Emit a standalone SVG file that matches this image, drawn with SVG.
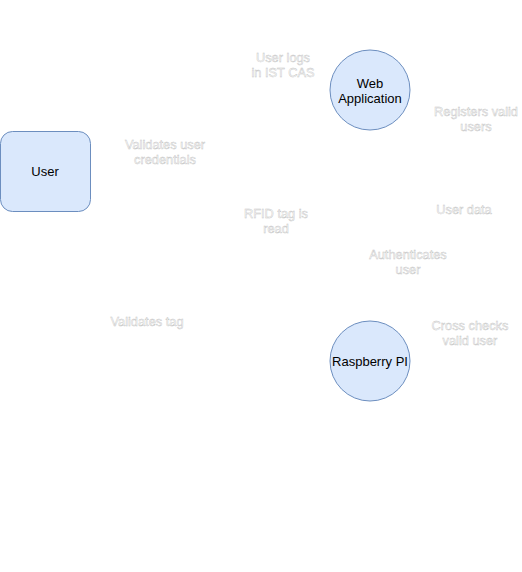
<svg xmlns="http://www.w3.org/2000/svg" width="522" height="572" viewBox="0 0 522 572">
<style>
.node{fill:#dae8fc;stroke:#6c8ebf;stroke-width:1}
.nt{font-family:"Liberation Sans",Arial,sans-serif;font-size:13px;fill:#000;text-anchor:middle}
.lb{font-family:"Liberation Sans",Arial,sans-serif;font-size:12.8px;fill:#fff;stroke:#c4c4c4;stroke-width:0.45;text-anchor:middle}
.edge{fill:none;stroke:#fff;stroke-width:1}
</style>
<rect width="522" height="572" fill="#fff"/>
<g id="connectors">
<path class="edge" d="M90 160 L330 90"/>
<path class="edge" d="M90 190 L330 361"/>
<path class="edge" d="M410 90 L470 361"/>
</g>
<g id="labels">
<text class="lb" x="283" y="62">User logs</text>
<text class="lb" x="283" y="77">in IST CAS</text>
<text class="lb" x="476" y="116">Registers valid</text>
<text class="lb" x="476" y="131">users</text>
<text class="lb" x="165" y="149">Validates user</text>
<text class="lb" x="165" y="164">credentials</text>
<text class="lb" x="276" y="218">RFID tag is</text>
<text class="lb" x="276" y="233">read</text>
<text class="lb" x="464" y="214">User data</text>
<text class="lb" x="408" y="259">Authenticates</text>
<text class="lb" x="408" y="274">user</text>
<text class="lb" x="147" y="326">Validates tag</text>
<text class="lb" x="470" y="330">Cross checks</text>
<text class="lb" x="470" y="345">valid user</text>
</g>
<g id="user">
<rect class="node" x="0.5" y="131.5" width="90" height="80" rx="12"/>
<text class="nt" x="45" y="176">User</text>
</g>
<g id="webapp">
<circle class="node" cx="370" cy="90" r="40"/>
<text class="nt" x="370" y="88">Web</text>
<text class="nt" x="370" y="103">Application</text>
</g>
<g id="raspberry">
<circle class="node" cx="370" cy="361" r="40"/>
<text class="nt" x="370" y="366">Raspberry PI</text>
</g>
</svg>
